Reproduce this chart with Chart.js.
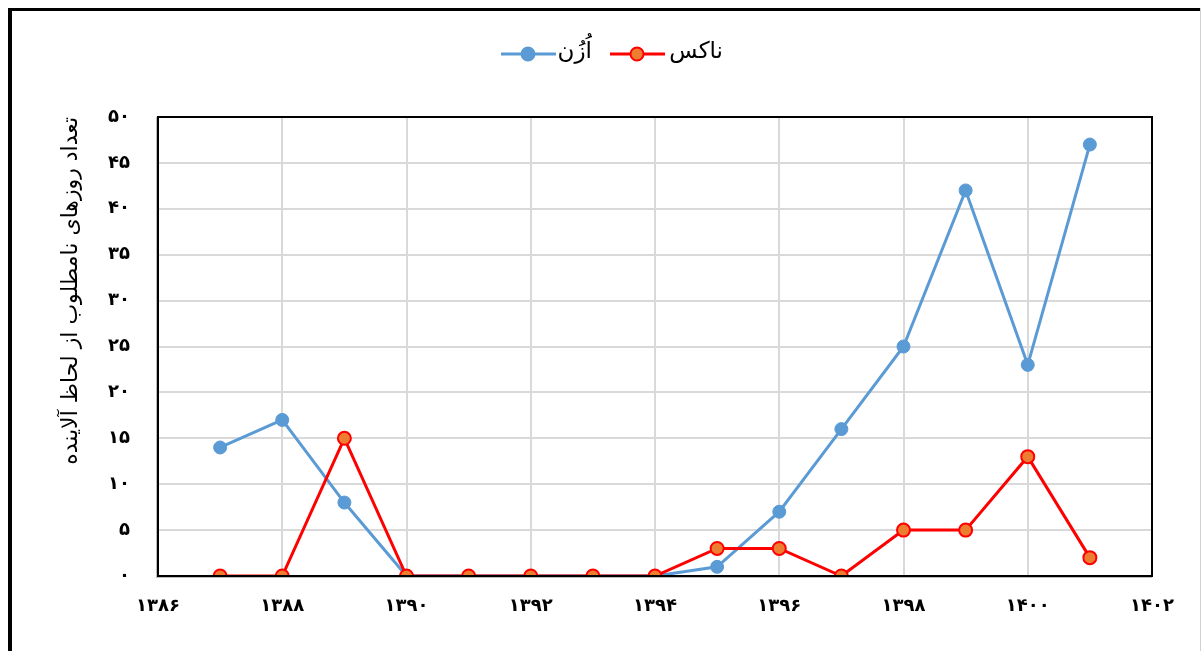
<!DOCTYPE html>
<html>
<head>
<meta charset="utf-8">
<script src="https://cdn.jsdelivr.net/npm/chart.js@4.4.1/dist/chart.umd.min.js"></script>
<style>
  html, body { margin: 0; padding: 0; background: #fff; }
  #wrap { width: 1202px; height: 651px; }
</style>
</head>
<body>
<div id="wrap"><canvas id="myChart" width="1202" height="651"></canvas></div>
<script>
/*********DATA************/
const years = [1387, 1388, 1389, 1390, 1391, 1392, 1393, 1394, 1395, 1396, 1397, 1398, 1399, 1400, 1401];
const ozone = [14, 17, 8, 0, 0, 0, 0, 0, 1, 7, 16, 25, 42, 23, 47];
const nox = [0, 0, 15, 0, 0, 0, 0, 0, 3, 3, 0, 5, 5, 13, 2];
const seriesNames = ["اُزُن", "ناکس"];
const yTitle = "تعداد روزهای نامطلوب از لحاظ آلاینده";

// persian digits for tick labels
const faDigits = "۰۱۲۳۴۵۶۷۸۹";
const toFa = (n) => String(n).replace(/[0-9]/g, (d) => faDigits[d]);

const toPoints = (vals) => years.map((yr, i) => ({ x: yr, y: vals[i] }));

const FONT = "'DejaVu Sans', sans-serif";

// outer frame + plot border
const framePlugin = {
  id: "frame",
  beforeDraw(chart) {
    const c = chart.ctx;
    c.save();
    c.fillStyle = "#fff";
    c.fillRect(0, 0, chart.width, chart.height);
    c.fillStyle = "#000";
    c.fillRect(8, 8, 4, chart.height - 8);
    c.fillRect(8, 8, 1192, 3);
    c.fillStyle = "#d0d0d0";
    c.fillRect(1200, 8, 1, chart.height - 8);
    c.restore();
  },
  afterDatasetsDraw(chart) {
    const a = chart.chartArea;
    const c = chart.ctx;
    c.save();
    c.strokeStyle = "#bbb";
    c.lineWidth = 2;
    c.beginPath();
    c.moveTo(a.left - 1, a.top);
    c.lineTo(a.left - 1, a.bottom + 1);
    c.lineTo(a.right, a.bottom + 1);
    c.stroke();
    c.strokeStyle = "#000";
    c.lineWidth = 2;
    c.strokeRect(a.left, a.top, a.right - a.left, a.bottom - a.top);
    c.restore();
  },
};

// legend: line + marker + name
const legendPlugin = {
  id: "lineLegend",
  afterDraw(chart) {
    const c = chart.ctx;
    const items = [
      { ds: chart.data.datasets[0], x0: 501, x1: 556, cx: 528, tx: 592 },
      { ds: chart.data.datasets[1], x0: 610, x1: 665, cx: 637, tx: 723 },
    ];
    const y = 54;
    c.save();
    items.forEach((it) => {
      c.strokeStyle = it.ds.borderColor;
      c.lineWidth = 3;
      c.beginPath();
      c.moveTo(it.x0, y);
      c.lineTo(it.x1, y);
      c.stroke();
      c.beginPath();
      c.arc(it.cx, y, 6.5, 0, Math.PI * 2);
      c.fillStyle = it.ds.pointBackgroundColor;
      c.fill();
      c.lineWidth = 2;
      c.strokeStyle = it.ds.pointBorderColor;
      c.stroke();
      c.fillStyle = "#000";
      c.font = "23px " + FONT;
      c.textAlign = "right";
      c.textBaseline = "middle";
      c.fillText(it.ds.label, it.tx, y - 2);
    });
    c.restore();
  },
};

const ctx = document.getElementById("myChart");

new Chart(ctx, {
  type: "line",
  data: {
    datasets: [
      {
        label: seriesNames[0],
        data: toPoints(ozone),
        borderColor: "#5B9BD5",
        borderWidth: 3,
        pointBackgroundColor: "#5B9BD5",
        pointBorderColor: "#5B9BD5",
        pointBorderWidth: 1,
        pointRadius: 6.5,
        tension: 0,
        order: 1,
      },
      {
        label: seriesNames[1],
        data: toPoints(nox),
        borderColor: "#FF0000",
        borderWidth: 3,
        pointBackgroundColor: "#ED7D31",
        pointBorderColor: "#FF0000",
        pointBorderWidth: 2,
        pointRadius: 6.5,
        tension: 0,
        order: 0,
      },
    ],
  },
  options: {
    responsive: false,
    animation: false,
    layout: { padding: { left: 45, right: 50, top: 117, bottom: 10 } },
    scales: {
      x: {
        type: "linear",
        min: 1386,
        max: 1402,
        grid: { color: "#d9d9d9", lineWidth: 2, drawTicks: false },
        border: { display: false },
        ticks: {
          stepSize: 2,
          padding: 20,
          color: "#000",
          font: { size: 18, family: FONT, weight: "bold" },
          callback: (v) => toFa(v),
        },
        afterFit: (scale) => { scale.height = 651 - 576 - 10; },
      },
      y: {
        min: 0,
        max: 50,
        grid: { color: "#d9d9d9", lineWidth: 2, drawTicks: false },
        border: { display: false },
        ticks: {
          stepSize: 5,
          padding: 28,
          color: "#000",
          font: { size: 18, family: FONT, weight: "bold" },
          callback: (v) => toFa(v),
        },
        title: {
          display: true,
          text: yTitle,
          align: "end",
          color: "#000",
          font: { size: 22, family: FONT },
          padding: { top: 13, bottom: 0 },
        },
        afterFit: (scale) => { scale.width = 158 - 45; },
      },
    },
    plugins: {
      legend: { display: false },
      tooltip: { enabled: false },
    },
  },
  plugins: [framePlugin, legendPlugin],
});
</script>
</body>
</html>
